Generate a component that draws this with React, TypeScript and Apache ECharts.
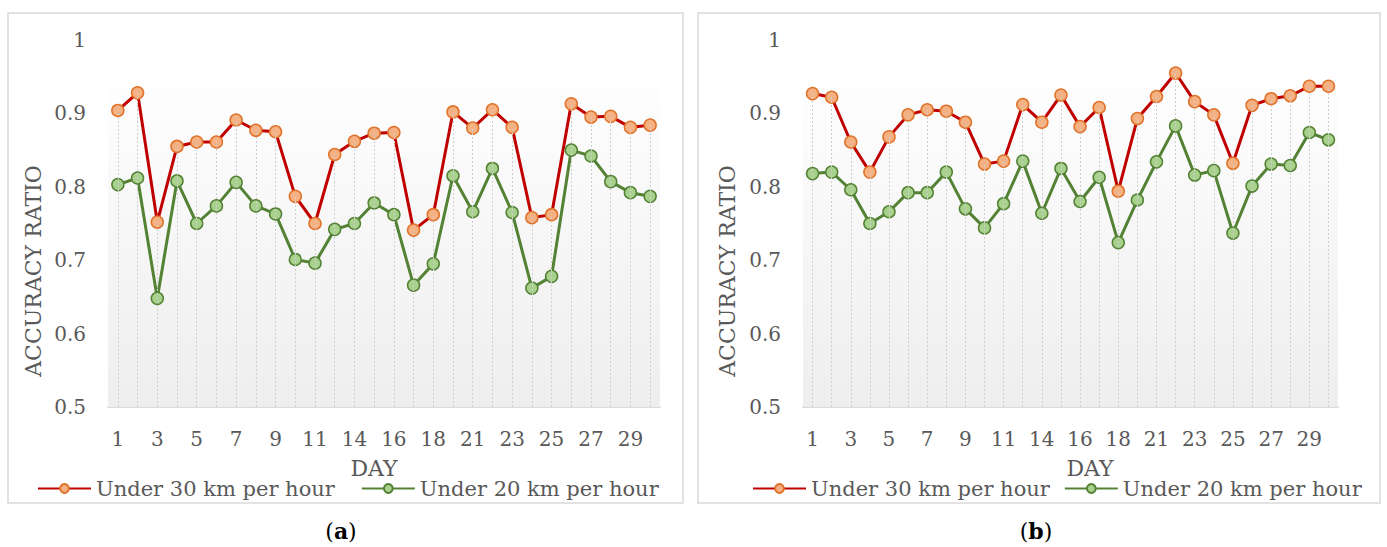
import React, { useEffect, useRef } from "react";
import * as echarts from "echarts";

const days = ["1","2","3","4","5","6","7","8","9","10","11","13","14","15","16","17","18","20","21","22","23","24","25","26","27","28","29","30"];
const yTicks = [0.5, 0.6, 0.7, 0.8, 0.9, 1];
const seriesNames = ["Under 30 km per hour", "Under 20 km per hour"];

const a30 = [0.904,0.928,0.752,0.855,0.861,0.861,0.891,0.877,0.875,0.787,0.750,0.844,0.862,0.873,0.874,0.741,0.762,0.902,0.880,0.905,0.881,0.758,0.762,0.913,0.895,0.896,0.881,0.884];
const a20 = [0.803,0.812,0.648,0.808,0.750,0.774,0.806,0.774,0.763,0.701,0.696,0.742,0.750,0.778,0.762,0.666,0.695,0.815,0.766,0.825,0.765,0.662,0.678,0.850,0.842,0.807,0.792,0.787];
const b30 = [0.927,0.922,0.861,0.820,0.868,0.898,0.905,0.903,0.888,0.831,0.835,0.912,0.888,0.925,0.882,0.908,0.794,0.893,0.923,0.955,0.916,0.898,0.832,0.911,0.920,0.924,0.937,0.937];
const b20 = [0.818,0.820,0.796,0.750,0.766,0.792,0.792,0.820,0.770,0.744,0.777,0.835,0.764,0.825,0.780,0.813,0.724,0.782,0.834,0.883,0.816,0.822,0.737,0.801,0.831,0.829,0.874,0.864];

const FONT = "DejaVu Serif";
const TXT = "#595959";

export default function App() {
  const ref = useRef<HTMLDivElement>(null);
  useEffect(() => {
    if (!ref.current) return;
    const chart = echarts.init(ref.current, undefined, { renderer: "svg" });

    const grids = [
      { left: 108, top: 40, width: 552, height: 367 },
      { left: 803, top: 40, width: 535, height: 367 },
    ];
    const panels = [
      { s30: a30, s20: a20 },
      { s30: b30, s20: b20 },
    ];

    const xAxes = grids.map((_, i) => ({
      type: "category",
      gridIndex: i,
      data: days,
      boundaryGap: true,
      axisTick: { show: false },
      axisLine: { lineStyle: { color: "#d9d9d9", width: 2 } },
      axisLabel: { interval: 1, color: TXT, fontFamily: FONT, fontSize: 20, margin: 22 },
      splitLine: { show: false },
    }));
    const yAxes = grids.map((_, i) => ({
      type: "value",
      gridIndex: i,
      min: yTicks[0],
      max: yTicks[yTicks.length - 1],
      interval: 0.1,
      axisLine: { show: false },
      axisTick: { show: false },
      splitLine: { show: false },
      axisLabel: { color: TXT, fontFamily: FONT, fontSize: 20, margin: 22 },
    }));

    const series: any[] = [];
    panels.forEach((p, i) => {
      const maxv = p.s30.map((v, k) => Math.max(v, p.s20[k]));
      series.push({
        name: "_bg" + i,
        type: "line",
        xAxisIndex: i,
        yAxisIndex: i,
        data: maxv,
        symbol: "none",
        lineStyle: { opacity: 0 },
        silent: true,
        z: 1,
        markArea: {
          silent: true,
          itemStyle: {
            color: new echarts.graphic.LinearGradient(0, 0, 0, 1, [
              { offset: 0, color: "#fefefe" },
              { offset: 1, color: "#eeeeee" },
            ]),
          },
          data: [[{ yAxis: 0.942 }, { yAxis: 0.5 }]],
        },
        markLine: {
          silent: true,
          symbol: "none",
          label: { show: false },
          lineStyle: { color: "#cfcfcf", type: [2, 2], width: 1 },
          data: maxv.map((v, k) => [{ coord: [k, 0.5] }, { coord: [k, v] }]),
        },
      });
      series.push({
        name: seriesNames[0],
        type: "line",
        xAxisIndex: i,
        yAxisIndex: i,
        data: p.s30,
        symbol: "circle",
        symbolSize: 12,
        z: 3,
        lineStyle: { color: "#c00000", width: 3 },
        itemStyle: { color: "#f4b183", borderColor: "#e0722a", borderWidth: 1.5 },
      });
      series.push({
        name: seriesNames[1],
        type: "line",
        xAxisIndex: i,
        yAxisIndex: i,
        data: p.s20,
        symbol: "circle",
        symbolSize: 12,
        z: 3,
        lineStyle: { color: "#548235", width: 3 },
        itemStyle: { color: "#a9d18e", borderColor: "#548235", borderWidth: 1.5 },
      });
    });

    const legendCommon = {
      data: seriesNames,
      padding: 0,
      itemWidth: 53,
      itemHeight: 11,
      textStyle: { color: TXT, fontFamily: FONT, fontSize: 21 },
      selectedMode: false,
    };

    const titleText = (x: number, y: number, text: string, rot = 0) => ({
      type: "text",
      x,
      y,
      rotation: rot,
      style: {
        text,
        fill: TXT,
        font: `22px '${FONT}'`,
        textAlign: "center",
        textVerticalAlign: "middle",
      },
    });

    const caption = (x: number, letter: string) => ({
      type: "text",
      x,
      y: 531,
      style: {
        text: "({b|" + letter + "})",
        fill: "#000",
        font: `22px '${FONT}'`,
        textAlign: "center",
        textVerticalAlign: "middle",
        rich: { b: { fontWeight: "bold", fontFamily: FONT, fontSize: 22, fill: "#000" } },
      },
    });

    chart.setOption({
      animation: false,
      backgroundColor: "#ffffff",
      grid: grids,
      xAxis: xAxes,
      yAxis: yAxes,
      legend: [
        { ...legendCommon, itemGap: 26, left: 37, top: 478 },
        { ...legendCommon, itemGap: 14, left: 752, top: 478 },
      ],
      series,
      graphic: [
        { type: "rect", shape: { x: 8, y: 13, width: 675, height: 490 }, style: { fill: "none", stroke: "#d9d9d9", lineWidth: 1.5 }, silent: true },
        { type: "rect", shape: { x: 698, y: 13, width: 682, height: 490 }, style: { fill: "none", stroke: "#d9d9d9", lineWidth: 1.5 }, silent: true },
        titleText(33, 271, "ACCURACY RATIO", Math.PI / 2),
        titleText(727, 271, "ACCURACY RATIO", Math.PI / 2),
        titleText(374, 468, "DAY"),
        titleText(1090, 468, "DAY"),
        caption(341, "a"),
        caption(1036, "b"),
      ],
    });
    return () => chart.dispose();
  }, []);
  return <div ref={ref} style={{ position: "absolute", left: 0, top: 0, width: 1387, height: 547 }} />;
}
